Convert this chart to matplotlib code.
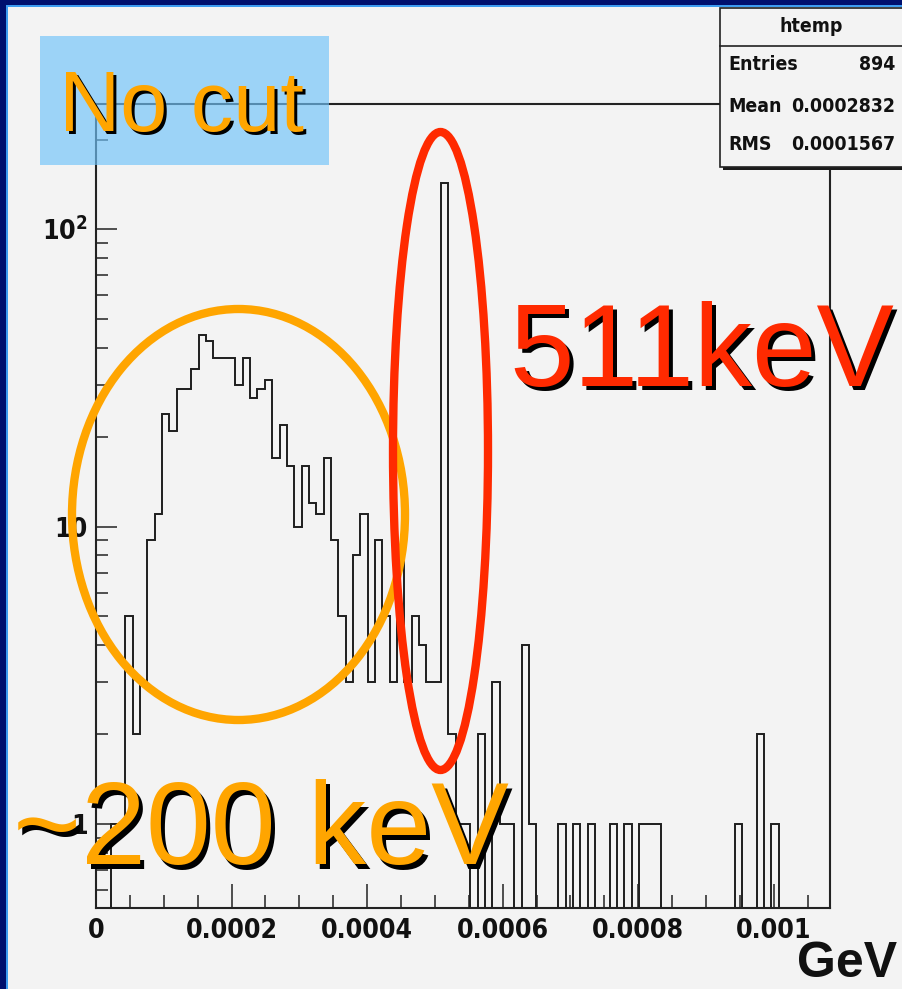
import numpy as np
import matplotlib
matplotlib.use("Agg")
import matplotlib.pyplot as plt
from matplotlib import font_manager as fm
from matplotlib.patches import Rectangle, Ellipse
from matplotlib.lines import Line2D
from matplotlib.ticker import NullFormatter, FixedLocator, LogLocator
from matplotlib.textpath import TextToPath

# ---------------- data ----------------
x_min = 0.0
x_max = 0.001083
counts = [0, 0, 1, 1, 5, 2, 3, 9, 11, 24,
          21, 29, 29, 34, 44, 42, 37, 37, 37, 30,
          37, 27, 29, 31, 17, 22, 16, 10, 16, 12,
          11, 17, 9, 5, 3, 8, 11, 3, 9, 5,
          3, 8, 3, 5, 4, 3, 3, 143, 2, 1,
          1, 0, 2, 0, 3, 1, 1, 0, 4, 1,
          0, 0, 0, 1, 0, 1, 0, 1, 0, 0,
          1, 0, 1, 0, 1, 1, 1, 0, 0, 0,
          0, 0, 0, 0, 0, 0, 0, 1, 0, 0,
          2, 0, 1, 0, 0, 0, 0, 0, 0, 0]
y_min = 0.522
y_max = 263.6
x_ticks = [0, 0.0002, 0.0004, 0.0006, 0.0008, 0.001]
x_tick_labels = ["0", "0.0002", "0.0004", "0.0006", "0.0008", "0.001"]
y_ticks = [1, 10, 100]
y_tick_labels = ["1", "10", r"$\mathregular{10^{2}}$"]
x_title = "GeV"
stats_title = "htemp"
stats_names = ["Entries", "Mean", "RMS"]
stats_values = ["894", "0.0002832", "0.0001567"]
label_nocut = "No cut"
label_peak = "511keV"
label_low = "~200 keV"

# ---------------- fonts ----------------
arial = ["Liberation Sans", "DejaVu Sans"]
narrow_fp = fm.FontProperties(family="Liberation Sans", weight="bold")
for f in fm.fontManager.ttflist:
    nm = f.name + " " + str(f.fname)
    if ("Narrow" in nm or "Condensed" in nm) and str(f.weight) in ("bold", "700", "600", "semibold"):
        narrow_fp = fm.FontProperties(fname=f.fname)
        break

_t2p = TextToPath()


def width_px(s, size_pt):
    fp = narrow_fp.copy()
    fp.set_size(size_pt)
    w, h, d = _t2p.get_text_width_height_descent(s, fp, ismath=False)
    return w * 100 / 72.0


def fit_size(s, target_px, max_pt):
    w = width_px(s, 10)
    return min(max_pt, 10 * target_px / w)


tick_size = fit_size("0.0002", 92, 24)
stat_size = fit_size("0.0002832", 104, 20)


def nfp(size):
    fp = narrow_fp.copy()
    fp.set_size(size)
    return fp


# ---------------- figure ----------------
W, H = 903, 989
BG = "#f3f3f3"
fig = plt.figure(figsize=(W / 100, H / 100), dpi=100, facecolor=BG)


def fx(x):
    return x / W


def fy(y):
    return 1 - y / H


ax = fig.add_axes([fx(96), fy(908), 734 / W, 804 / H])
ax.set_facecolor(BG)
edges = np.linspace(x_min, x_max, len(counts) + 1)
cnt = np.array(counts, dtype=float)
plot_vals = np.where(cnt > 0, cnt, 1e-3)
ax.stairs(plot_vals, edges, baseline=None, color="#1e1e1e", lw=1.4)
ax.set_yscale("log")
ax.set_xlim(x_min, x_max)
ax.set_ylim(y_min, y_max)

ax.xaxis.set_major_locator(FixedLocator(x_ticks))
ax.set_xticklabels(x_tick_labels)
ax.xaxis.set_minor_locator(FixedLocator(np.arange(0, x_max, 0.00005)))
ax.yaxis.set_major_locator(FixedLocator(y_ticks))
ax.set_yticklabels(y_tick_labels)
ax.yaxis.set_minor_locator(LogLocator(base=10, subs=np.arange(2, 10), numticks=20))
ax.yaxis.set_minor_formatter(NullFormatter())

for lab in ax.get_xticklabels() + ax.get_yticklabels():
    lab.set_fontproperties(nfp(tick_size))
    lab.set_color("#111111")

ax.tick_params(axis="x", which="major", direction="in", length=17.3, width=1.1,
               color="#222222", pad=7, top=False)
ax.tick_params(axis="x", which="minor", direction="in", length=9.4, width=1.1,
               color="#222222", top=False)
ax.tick_params(axis="y", which="major", direction="in", length=15, width=1.1,
               color="#222222", pad=6, right=False)
ax.tick_params(axis="y", which="minor", direction="in", length=8.6, width=1.1,
               color="#222222", right=False)
for sp in ax.spines.values():
    sp.set_linewidth(1.5)
    sp.set_color("#222222")

# axis title
fig.text(fx(797), fy(977), x_title, fontsize=36, fontweight="bold",
         family=arial, color="#111111", va="baseline", ha="left")

# ---------------- outer border ----------------
fig.add_artist(Rectangle((0, fy(5)), 1, 5 / H, transform=fig.transFigure,
                         facecolor="#00106e", edgecolor="none", zorder=10))
fig.add_artist(Rectangle((0, fy(7.3)), 1, 2.3 / H, transform=fig.transFigure,
                         facecolor="#3d9cf0", edgecolor="none", zorder=10))
fig.add_artist(Rectangle((0, 0), 6 / W, 1, transform=fig.transFigure,
                         facecolor="#00106e", edgecolor="none", zorder=10))
fig.add_artist(Rectangle((fx(6), 0), 2.3 / W, fy(5), transform=fig.transFigure,
                         facecolor="#3d9cf0", edgecolor="none", zorder=10))

# ---------------- stats box ----------------
bx0, by0, bx1, by1 = 720.5, 8, 912, 167
fig.add_artist(Rectangle((fx(bx0 + 3), fy(by1 + 3)), (bx1 - bx0) / W, (by1 - by0) / H,
                         transform=fig.transFigure, facecolor="#1a1a1a",
                         edgecolor="none", zorder=3))
fig.add_artist(Rectangle((fx(bx0), fy(by1)), (bx1 - bx0) / W, (by1 - by0) / H,
                         transform=fig.transFigure, facecolor=BG,
                         edgecolor="#222222", lw=1.2, zorder=3.1))
fig.add_artist(Line2D([fx(bx0), fx(bx1)], [fy(46), fy(46)], transform=fig.transFigure,
                      color="#222222", lw=1.2, zorder=3.2))
fig.text(fx(811), fy(27), stats_title, fontproperties=nfp(stat_size),
         ha="center", va="center", color="#111111", zorder=3.3)
for i, (nm, val) in enumerate(zip(stats_names, stats_values)):
    yy = [65, 106, 145][i]
    fig.text(fx(728), fy(yy), nm, fontproperties=nfp(stat_size),
             ha="left", va="center", color="#111111", zorder=3.3)
    fig.text(fx(895), fy(yy), val, fontproperties=nfp(stat_size),
             ha="right", va="center", color="#111111", zorder=3.3)

# ---------------- annotations ----------------
fig.add_artist(Rectangle((fx(40), fy(165)), 289 / W, 129 / H, transform=fig.transFigure,
                         facecolor="#70c3fa", alpha=0.66, edgecolor="none", zorder=4))
fig.add_artist(Ellipse((fx(238.5), fy(514.5)), 333 / W, 411 / H, transform=fig.transFigure,
                       facecolor="none", edgecolor="#ffa500", lw=6, zorder=5))
fig.add_artist(Ellipse((fx(440.5), fy(451)), 95 / W, 638 / H, transform=fig.transFigure,
                       facecolor="none", edgecolor="#ff2a00", lw=6, zorder=6))


def shadow_text(x, y, s, size, color, off):
    fig.text(fx(x + off), fy(y + off), s, fontsize=size, family=arial, color="black",
             ha="left", va="baseline", zorder=7)
    fig.text(fx(x), fy(y), s, fontsize=size, family=arial, color=color,
             ha="left", va="baseline", zorder=8)


shadow_text(59, 131, label_nocut, 61, "#ffa500", 3)
shadow_text(509, 386, label_peak, 83.5, "#ff2a00", 4)
shadow_text(13, 864, label_low, 84, "#ffa500", 4.5)

fig.savefig("out.png", dpi=100, facecolor=BG)
